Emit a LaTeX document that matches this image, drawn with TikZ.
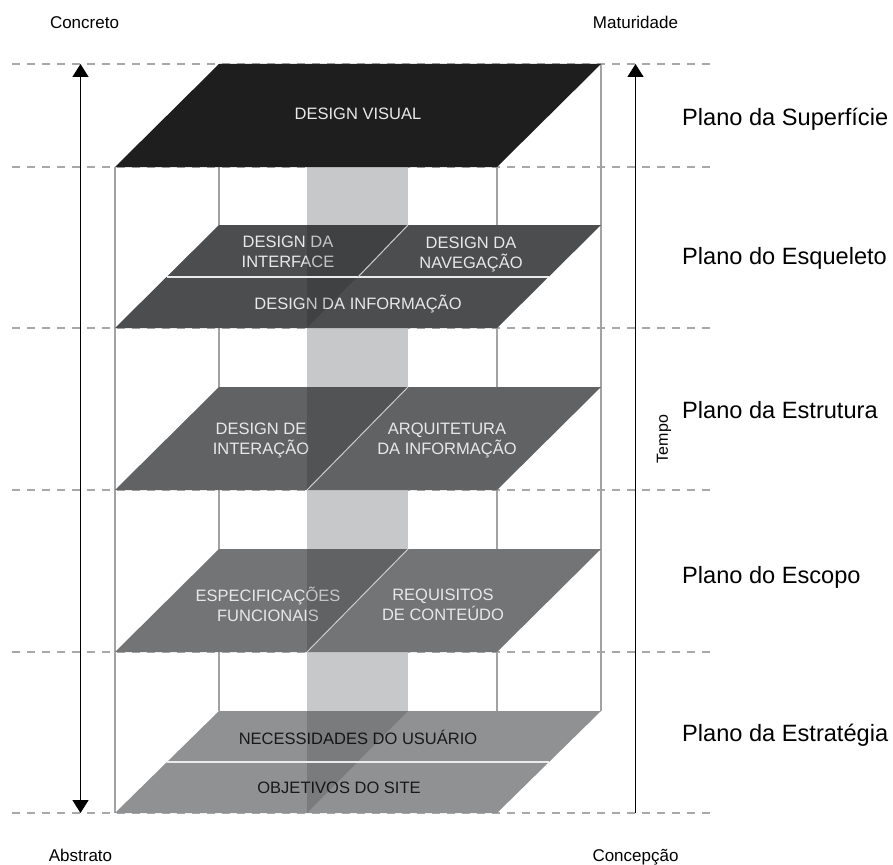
\documentclass[tikz,border=0pt]{standalone}
\usepackage{fontspec}
\setmainfont{Liberation Sans}
\usetikzlibrary{arrows.meta}
\definecolor{surfacegray}{HTML}{1E1E1E}
\definecolor{skeletongray}{HTML}{4B4D4F}
\definecolor{structuregray}{HTML}{616264}
\definecolor{scopegray}{HTML}{737476}
\definecolor{strategygray}{HTML}{909193}
\definecolor{columngray}{HTML}{C6C8CA}
\definecolor{framegray}{HTML}{A2A2A2}
\definecolor{guidegray}{HTML}{A8A8A8}
\definecolor{lighttext}{HTML}{E8E8E8}
\tikzset{
  guide/.style={line width=1.3pt,guidegray,dash pattern=on 8pt off 7pt},
  frame/.style={line width=1.2pt,framegray},
  rowline/.style={line width=1.6pt,white!92!black},
  splitline/.style={line width=1pt,white!80!black},
  shadow/.style={fill=black,fill opacity=0.15},
  planetext/.style={inner sep=0pt,text=lighttext,align=center,font=\fontsize{16.5}{20}\selectfont},
  sidelabel/.style={inner sep=0pt,font=\fontsize{17}{20}\selectfont},
  levellabel/.style={inner sep=0pt,anchor=base west,font=\fontsize{23.6}{28}\selectfont},
  axis/.style={line width=1.5pt,black},
}
\begin{document}
\begin{tikzpicture}[x=1pt,y=-1pt]
	\useasboundingbox (0,0) rectangle (893,864);
	% guides
	\draw [guide] (12,64) -- (715,64);
	\draw [guide] (12,167) -- (715,167);
	\draw [guide] (12,328) -- (715,328);
	\draw [guide] (12,490) -- (715,490);
	\draw [guide] (12,652) -- (715,652);
	\draw [guide] (12,813) -- (715,813);
	% frame
	\draw [frame] (115,167) -- (115,813);
	\draw [frame] (219,64) -- (219,711);
	\draw [frame] (497,167) -- (497,813);
	\draw [frame] (601,64) -- (601,711);
	\fill [columngray] (307,167) rectangle (408,813);
	% surface
	\fill [surfacegray] (219,64) -- (601,64) -- (497,167) -- (115,167) -- cycle;
	\node [planetext,anchor=base] (visual) at (358,120) {DESIGN VISUAL};
	% skeleton
	\fill [skeletongray] (219,225) -- (601,225) -- (497,328) -- (115,328) -- cycle;
	\node [planetext] (interface) at (288,252) {DESIGN DA\\INTERFACE};
	\node [planetext] (navigation) at (471,254) {DESIGN DA\\NAVEGAÇÃO};
	\node [planetext,anchor=base] (infodesign) at (358,309) {DESIGN DA INFORMAÇÃO};
	\fill [shadow] (307,225) -- (408,225) -- (307,328) -- cycle;
	\draw [rowline] (167,277) -- (549,277);
	\draw [splitline] (408,225) -- (358,277);
	% structure
	\fill [structuregray] (219,387) -- (601,387) -- (497,490) -- (115,490) -- cycle;
	\node [planetext] (interaction) at (261,440) {DESIGN DE\\INTERAÇÃO};
	\node [planetext] (architecture) at (447,440) {ARQUITETURA\\DA INFORMAÇÃO};
	\fill [shadow] (307,387) -- (408,387) -- (307,490) -- cycle;
	\draw [splitline] (408,387) -- (307,490);
	% scope
	\fill [scopegray] (219,549) -- (601,549) -- (497,652) -- (115,652) -- cycle;
	\node [planetext] (specs) at (268,604) {ESPECIFICAÇÕES\\FUNCIONAIS};
	\node [planetext] (content) at (443,605) {REQUISITOS\\DE CONTEÚDO};
	\fill [shadow] (307,549) -- (408,549) -- (307,652) -- cycle;
	\draw [splitline] (408,549) -- (307,652);
	% strategy
	\fill [strategygray] (219,711) -- (601,711) -- (497,813) -- (115,813) -- cycle;
	\node [planetext,anchor=base,text=black!90] (userneeds) at (358,744) {NECESSIDADES DO USUÁRIO};
	\node [planetext,anchor=base,text=black!90] (objectives) at (339,793) {OBJETIVOS DO SITE};
	\fill [shadow] (307,711) -- (408,711) -- (307,813) -- cycle;
	\draw [rowline] (167,762) -- (549,762);
	% axes
	\coordinate (LT) at (80.5,64);
	\coordinate (LB) at (80.5,813);
	\coordinate (RT) at (635.5,64);
	\coordinate (RB) at (635.5,813);
	\draw [axis,{Triangle[width=16pt,length=13pt]}-{Triangle[width=16pt,length=13pt]}] (LT) -- (LB);
	\draw [axis,-{Triangle[width=16pt,length=13pt]}] (RB) -- (RT);
	\node [sidelabel,anchor=base] (concrete) at (84.5,29) {Concreto};
	\node [sidelabel,anchor=base] (maturity) at (635.5,29) {Maturidade};
	\node [sidelabel,anchor=base] (abstract) at (80.5,861) {Abstrato};
	\node [sidelabel,anchor=base] (conception) at (635.5,861) {Concepção};
	\node [sidelabel,rotate=90,font=\fontsize{16}{19}\selectfont] (time) at (664,439) {Tempo};
	% levels
	\node [levellabel] (surface) at (682,125) {Plano da Superfície};
	\node [levellabel] (skeleton) at (682,264) {Plano do Esqueleto};
	\node [levellabel] (structure) at (682,418) {Plano da Estrutura};
	\node [levellabel] (scope) at (682,583) {Plano do Escopo};
	\node [levellabel] (strategy) at (682,741) {Plano da Estratégia};
\end{tikzpicture}
\end{document}
